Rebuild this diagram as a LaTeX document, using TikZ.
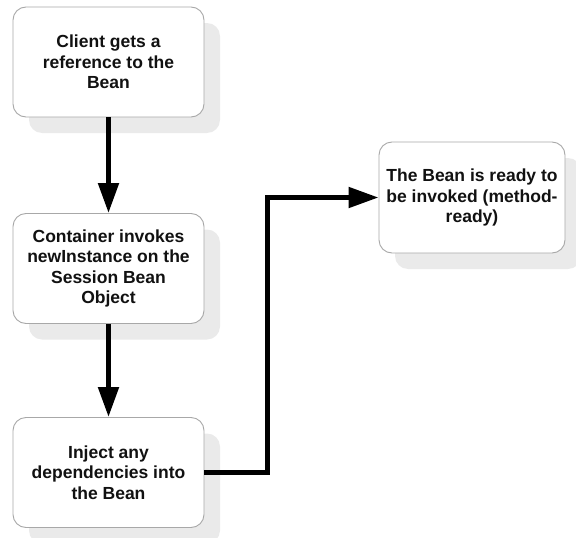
\documentclass[tikz,border=0pt]{standalone}
\usepackage{fontspec}
\setmainfont{Liberation Sans}
\usetikzlibrary{arrows.meta,shadows}
\definecolor{boxline}{HTML}{A8A8A8}
\definecolor{shadowgray}{HTML}{EAEAEA}
\definecolor{ink}{HTML}{111111}
\begin{document}
\begin{tikzpicture}[x=1pt,y=-1pt,
  stepbox/.style={draw=boxline, line width=0.9pt, fill=white,
    rounded corners=13pt, minimum width=191pt, minimum height=110pt,
    align=center, text=ink, inner sep=2pt,
    font=\bfseries\fontsize{17.5}{20.5}\selectfont,
    drop shadow={shadow xshift=16pt, shadow yshift=-16pt,
      fill=shadowgray, opacity=1}},
  flow/.style={line width=5pt, -{Triangle[length=30pt,width=20pt]}}]
\useasboundingbox (0,0) rectangle (576,538);

\node[stepbox] (b1) at (108.5,62) {Client gets a\\reference to the\\Bean};
\node[stepbox] (b2) at (108.5,268.5) {Container invokes\\newInstance on the\\Session Bean\\Object};
\node[stepbox] (b3) at (108.5,472.5) {Inject any\\dependencies into\\the Bean};
\node[stepbox, minimum width=186pt, minimum height=111pt] (b4) at (472,197.5)
  {The Bean is ready to\\be invoked (method-\\ready)};

\draw[flow] (b1.south) -- (b2.north);
\draw[flow] (b2.south) -- (b3.north);
\draw[flow] (b3.east) -- ++(63,0) |- (b4.west);
\end{tikzpicture}
\end{document}
